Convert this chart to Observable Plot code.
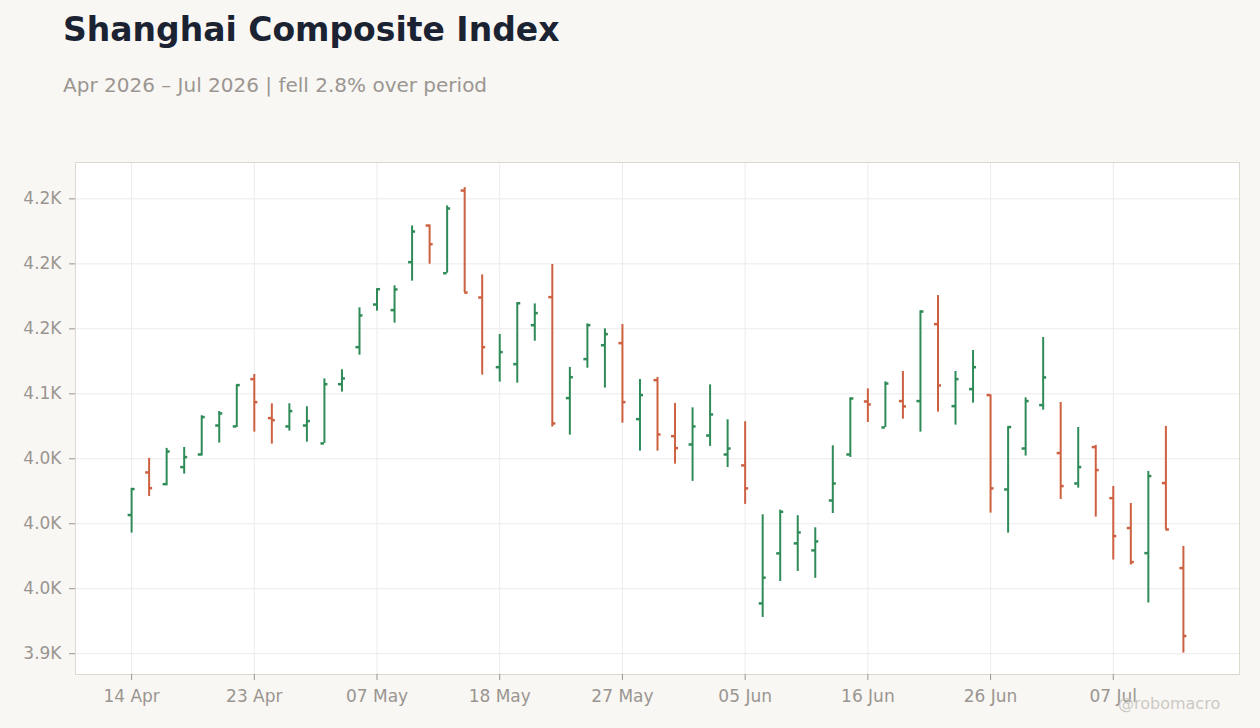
<!DOCTYPE html>
<html>
<head>
<meta charset="utf-8">
<script src="https://cdn.jsdelivr.net/npm/d3@7"></script>
<script src="https://cdn.jsdelivr.net/npm/@observablehq/plot@0.6"></script>
<style>
  html, body { margin: 0; padding: 0; background: #f8f7f4; }
  #page { position: relative; width: 1260px; height: 728px; overflow: hidden; font-family: "DejaVu Sans", sans-serif; }
  #title { position: absolute; left: 63px; top: 13px; font-size: 33px; line-height: 1; font-weight: bold; color: #1b2333; white-space: nowrap; }
  #subtitle { position: absolute; left: 63px; top: 75px; font-size: 20px; line-height: 1; color: #9b9691; white-space: nowrap; }
  #chart { position: absolute; left: 0; top: 120px; }
  #credit { position: absolute; left: 1118px; top: 696px; font-size: 16px; line-height: 1; color: #cdc9c4; white-space: nowrap; }
</style>
</head>
<body>
<div id="page">
  <div id="title">Shanghai Composite Index</div>
  <div id="subtitle">Apr 2026 – Jul 2026 | fell 2.8% over period</div>
  <div id="chart"></div>
  <div id="credit">@robomacro</div>
</div>
<script>
// Trading days (index axis)
const dates = [
  "2026-04-14","2026-04-15","2026-04-16","2026-04-17","2026-04-20","2026-04-21","2026-04-22","2026-04-23","2026-04-24",
  "2026-04-27","2026-04-28","2026-04-29","2026-04-30","2026-05-06","2026-05-07","2026-05-08",
  "2026-05-11","2026-05-12","2026-05-13","2026-05-14","2026-05-15",
  "2026-05-18","2026-05-19","2026-05-20","2026-05-21","2026-05-22",
  "2026-05-25","2026-05-26","2026-05-27","2026-05-28","2026-05-29",
  "2026-06-01","2026-06-02","2026-06-03","2026-06-04","2026-06-05",
  "2026-06-08","2026-06-09","2026-06-10","2026-06-11","2026-06-12",
  "2026-06-15","2026-06-16","2026-06-17","2026-06-18",
  "2026-06-22","2026-06-23","2026-06-24","2026-06-25","2026-06-26",
  "2026-06-29","2026-06-30","2026-07-01","2026-07-02","2026-07-03",
  "2026-07-06","2026-07-07","2026-07-08","2026-07-09","2026-07-10",
  "2026-07-13"
];
const openV = [
  4006.7,4039.5,4030.5,4043.6,4053.3,4075.6,4074.9,4111.3,4081.3,
  4074.9,4075.6,4061.8,4107.4,4135.9,4168.7,4164.4,
  4201.3,4229.5,4192.8,4256.4,4174.1,
  4120.5,4122.8,4152.8,4174.4,4096.7,
  4126.7,4137.4,4139.0,4080.5,4110.5,
  4067.4,4061.0,4067.9,4053.3,4044.9,
  3938.7,3977.2,3984.9,3979.5,4017.9,
  4053.3,4094.1,4074.1,4094.4,
  4094.4,4153.6,4090.5,4103.6,4099.0,
  4026.4,4057.9,4091.3,4054.4,4031.0,
  4059.0,4019.7,3996.7,3977.4,4031.3,
  3965.9
];
const highV = [
  4027.2,4050.3,4058.0,4058.7,4083.1,4086.4,4106.9,4114.9,4092.3,
  4092.3,4090.0,4111.5,4118.5,4166.2,4180.8,4183.1,
  4229.2,4230.0,4244.6,4258.7,4191.5,
  4145.6,4170.0,4169.2,4199.5,4120.3,
  4153.8,4150.0,4153.3,4111.0,4112.6,
  4092.6,4089.2,4106.9,4080.0,4078.5,
  4006.9,4010.5,4006.2,3996.9,4060.0,
  4096.7,4103.8,4109.2,4117.2,
  4163.8,4175.6,4117.2,4133.3,4099.2,
  4074.6,4096.9,4143.3,4093.3,4074.1,
  4060.3,4028.7,4015.6,4040.3,4074.9,
  3982.6
];
const lowV = [
  3992.8,4021.0,4029.2,4038.2,4052.1,4062.1,4074.1,4070.5,4061.3,
  4071.3,4062.8,4061.8,4101.3,4129.7,4163.6,4154.4,
  4186.7,4199.7,4192.8,4177.9,4114.4,
  4109.0,4108.2,4140.5,4074.4,4068.2,
  4119.7,4104.4,4077.4,4055.9,4055.9,
  4045.9,4032.6,4059.5,4043.3,4014.9,
  3927.9,3955.6,3963.3,3958.0,4007.9,
  4051.0,4077.9,4074.1,4080.5,
  4070.5,4085.9,4075.9,4092.8,4008.2,
  3992.8,4052.1,4087.4,4018.7,4027.4,
  4005.1,3972.1,3968.2,3939.0,3995.6,
  3900.5
];
const closeV = [
  4026.7,4027.4,4055.6,4051.3,4082.1,4084.9,4106.7,4093.6,4079.7,
  4086.7,4079.0,4107.4,4111.8,4160.3,4180.5,4180.3,
  4224.9,4215.1,4242.6,4177.9,4135.9,
  4132.1,4169.7,4162.1,4077.2,4112.8,
  4152.8,4145.9,4093.6,4099.0,4068.7,
  4058.2,4074.9,4084.1,4057.9,4027.2,
  3958.5,4009.2,3993.3,3986.4,4031.0,
  4096.4,4091.8,4107.9,4090.3,
  4163.3,4106.4,4111.3,4120.5,4027.2,
  4074.4,4094.4,4112.6,4029.0,4043.6,
  4041.3,3990.5,3970.5,4036.7,3995.6,
  3913.6
];
// Axis ticks
const xTickIdx = [0, 7, 14, 21, 28, 35, 42, 49, 56];
const xTickLabels = ["14 Apr", "23 Apr", "07 May", "18 May", "27 May", "05 Jun", "16 Jun", "26 Jun", "07 Jul"];
const yTicks = [3900, 3950, 4000, 4050, 4100, 4150, 4200, 4250];
const yTickLabels = ["3.9K", "4.0K", "4.0K", "4.0K", "4.1K", "4.2K", "4.2K", "4.2K"];

const UP = "#2e8b57";
const DOWN = "#cc6040";

const data = dates.map((d, i) => ({
  i, date: d, open: openV[i], high: highV[i], low: lowV[i], close: closeV[i]
}));
const up = data.filter(d => d.close >= d.open);
const down = data.filter(d => d.close < d.open);

function ohlc(rows, color) {
  return [
    Plot.ruleX(rows, {x: "i", y1: "low", y2: "high", stroke: color, strokeWidth: 2}),
    Plot.ruleY(rows, {y: "open", x1: d => d.i - 0.2, x2: "i", stroke: color, strokeWidth: 2.5}),
    Plot.ruleY(rows, {y: "close", x1: "i", x2: d => d.i + 0.2, stroke: color, strokeWidth: 2.5})
  ];
}

const chart = Plot.plot({
  width: 1260,
  height: 608,
  marginTop: 42,
  marginBottom: 54,
  marginLeft: 75,
  marginRight: 21,
  style: {background: "transparent", fontFamily: "DejaVu Sans, sans-serif", fontSize: "17px", color: "#9a9590"},
  x: {type: "linear", domain: [-3.2, 63.2]},
  y: {domain: [3884, 4278]},
  marks: [
    Plot.frame({fill: "white", stroke: "none"}),
    Plot.gridX(xTickIdx, {stroke: "#ebebeb", strokeOpacity: 1, strokeWidth: 1}),
    Plot.gridY(yTicks, {stroke: "#ebebeb", strokeOpacity: 1, strokeWidth: 1}),
    Plot.frame({stroke: "#ddd8d0", strokeWidth: 1}),
    Plot.axisX({ticks: xTickIdx, tickFormat: (v) => xTickLabels[xTickIdx.indexOf(v)], tickSize: 6, tickPadding: 9, stroke: "#9a9590", fill: "#9a9590", fontSize: 17, label: null}),
    Plot.axisY({ticks: yTicks, tickFormat: (v) => yTickLabels[yTicks.indexOf(v)], tickSize: 6, tickPadding: 8, stroke: "#9a9590", fill: "#9a9590", fontSize: 17, label: null}),
    ...ohlc(up, UP),
    ...ohlc(down, DOWN)
  ]
});
document.getElementById("chart").appendChild(chart);
</script>
</body>
</html>
